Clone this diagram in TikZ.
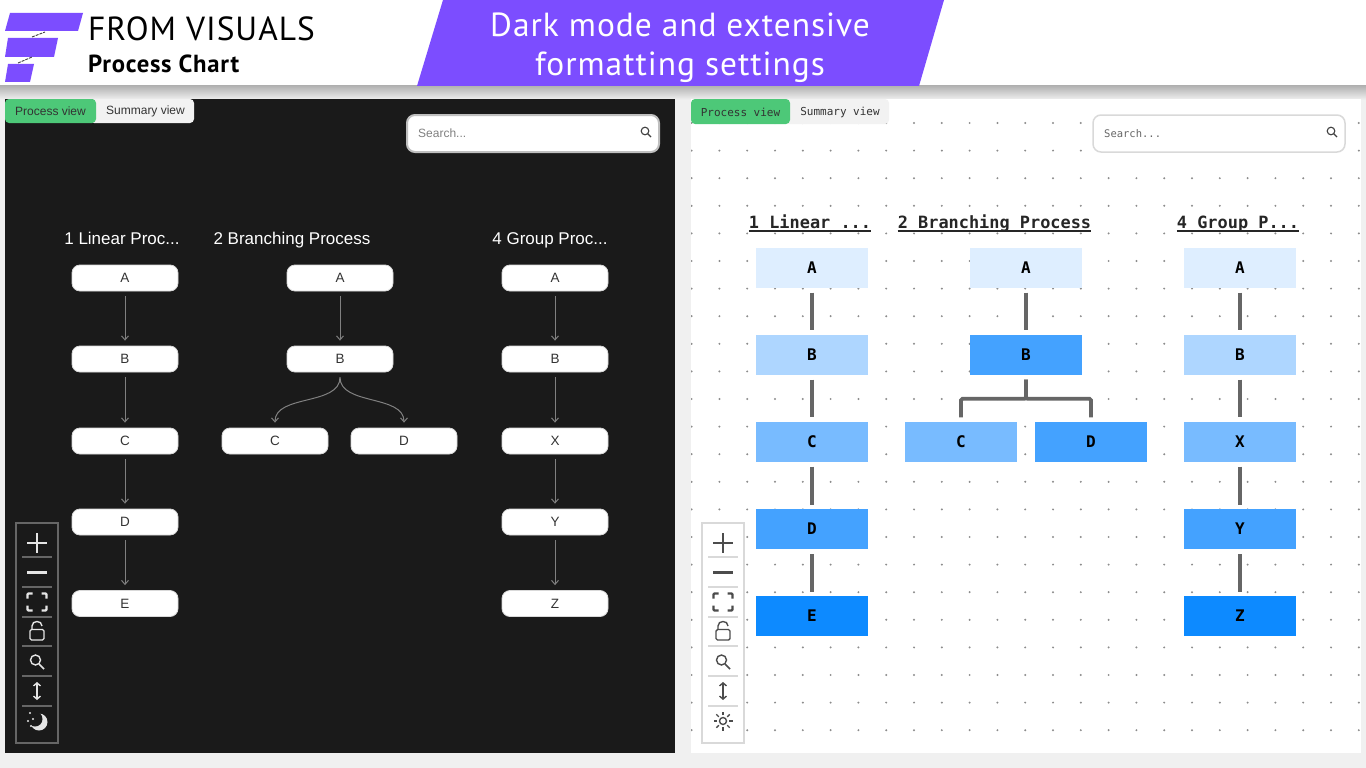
\documentclass[tikz,border=0pt]{standalone}
\usepackage{fontspec}
\setmainfont{Liberation Sans}
\newfontfamily\headfont[LetterSpace=3]{PT Sans}
\newfontfamily\codefont{DejaVu Sans Mono}
\usetikzlibrary{arrows.meta}
\definecolor{pagegray}{HTML}{F0F0F0}
\definecolor{brandpurple}{HTML}{7C4DFF}
\definecolor{darkpanel}{HTML}{1A1A1A}
\definecolor{tabgreen}{HTML}{4DC878}
\definecolor{tabgray}{HTML}{F2F2F2}
\definecolor{blueA}{HTML}{DEEEFF}
\definecolor{blueB}{HTML}{AED6FF}
\definecolor{blueC}{HTML}{78BBFF}
\definecolor{blueD}{HTML}{44A2FF}
\definecolor{blueE}{HTML}{0D8AFF}
\tikzset{
  darkbox/.style={draw=black!15,line width=0.8pt,fill=white,rounded corners=8pt,minimum width=106pt,minimum height=26pt,inner sep=0pt,text=black!80,font=\fontsize{13.5}{15}\selectfont},
  lightbox/.style={fill=#1,minimum width=112pt,minimum height=40pt,inner sep=0pt,font=\codefont\bfseries\fontsize{16}{18}\selectfont},
  darktitle/.style={text=white,inner sep=0pt,font=\fontsize{17}{19}\selectfont},
  lighttitle/.style={inner sep=0pt,text height=13pt,text depth=3pt,text=black!85,font=\codefont\bfseries\fontsize{16.9}{19}\selectfont},
  titleline/.style={draw=black!85,line width=1.7pt},
  darkflow/.style={draw=black!50,line width=1pt,shorten <=5pt,shorten >=5pt,-{Straight Barb[length=4pt,width=7pt]}},
  lightflow/.style={draw=black!60,line width=3.8pt,shorten <=5pt,shorten >=4pt},
  tablabel/.style={inner sep=0pt,text=black!80},
}
% x of the tool strip, border colour, icon colour
\newcommand{\toolstrip}[3]{
  \begin{scope}[shift={(#1,0)}]
    \draw[#2,line width=2pt] (-21,523) rectangle (21,743);
    \foreach \y in {557,587,617,646,676,706}
    \draw[#2,line width=1.2pt] (-15,\y) -- (15,\y);
    \draw[#3,line width=2.8pt] (-10,543) -- (10,543);
    \draw[#3,line width=2.8pt] (0,533) -- (0,553);
    \draw[#3,line width=2.6pt] (-10,572.5) -- (10,572.5);
    \foreach \a/\b in {-1/-1,1/-1,-1/1,1/1}
    \draw[#3,line width=2.2pt,rounded corners=1pt] (\a*9.5,602+\b*3.5) -- (\a*9.5,602+\b*8.5) -- (\a*4.5,602+\b*8.5);
    \draw[#3,line width=1.4pt,rounded corners=1.5pt] (-7,629.5) rectangle (7,640);
    \draw[#3,line width=1.4pt] (-5,629.5) -- (-5,626) .. controls (-5,620) and (5,620) .. (5,626);
    \draw[#3,line width=1.4pt] (-1.5,660) circle[radius=5];
    \draw[#3,line width=1.6pt] (2,664) -- (7,669);
    \draw[#3,line width=1.4pt,{Straight Barb[length=3pt,width=7pt]}-{Straight Barb[length=3pt,width=7pt]}] (0,682) -- (0,700);
  \end{scope}
}
\begin{document}
\begin{tikzpicture}[x=1pt,y=-1pt]
\useasboundingbox (0,0) rectangle (1366,768);
\fill[pagegray] (0,0) rectangle (1366,768);
% header
\fill[white] (0,0) rectangle (1366,86);
\shade[top color=black!30,bottom color=black!7] (0,86) rectangle (1366,99);
\fill[brandpurple] (10,13) -- (83,13) -- (78,31) -- (5,31) -- cycle;
\fill[brandpurple] (8,38) -- (58,38) -- (54,57) -- (5,57) -- cycle;
\fill[brandpurple] (8,64) -- (34,64) -- (30,82) -- (5,82) -- cycle;
\draw[black!75,line width=0.9pt,dash pattern=on 3pt off 1pt] (32,37) -- (45,32);
\draw[black!75,line width=0.9pt,dash pattern=on 3pt off 1pt] (18,63) -- (32,57);
\node[anchor=base west,inner sep=0pt] (brandname) at (88,41) {\headfont\fontsize{33.4}{36}\selectfont FROM VISUALS};
\node[anchor=base west,inner sep=0pt] (charttype) at (88,73) {\headfont\bfseries\fontsize{24.7}{26}\selectfont Process Chart};
\fill[brandpurple] (443,0) -- (944,0) -- (919,86) -- (417,86) -- cycle;
\node[text=white,anchor=base,inner sep=0pt] (bannerone) at (680,37) {\headfont\fontsize{33.4}{35}\selectfont Dark mode and extensive};
\node[text=white,anchor=base,inner sep=0pt] (bannertwo) at (680,75) {\headfont\fontsize{33.4}{35}\selectfont formatting settings};
% dark panel
\fill[darkpanel] (5,99) rectangle (675,753);
\fill[tabgray,rounded corners=4pt] (90,99) rectangle (194,123);
\fill[tabgreen,rounded corners=4pt] (5,99) rectangle (96,123);
\node[tablabel,font=\fontsize{12}{14}\selectfont] (dtabone) at (50.5,111) {Process view};
\node[tablabel,font=\fontsize{12}{14}\selectfont] (dtabtwo) at (145.5,111) {Summary view};
\draw[black!25,fill=white,line width=2pt,rounded corners=8pt] (407,115) rectangle (659,152);
\node[anchor=west,inner sep=0pt,text=black!50,font=\fontsize{12}{14}\selectfont] (dsearch) at (418,133) {Search...};
\draw[black!75,line width=1.1pt] (645,131) circle[radius=3.8];
\draw[black!75,line width=1.3pt] (647.7,133.7) -- (651,137);
\node[darktitle,anchor=base] (dtitleone) at (122,244) {1 Linear Proc...};
\node[darktitle,anchor=base] (dtitletwo) at (292,244) {2 Branching Process};
\node[darktitle,anchor=base] (dtitlefour) at (550,244) {4 Group Proc...};
\foreach \n/\y in {A/278,B/359,C/441,D/522,E/603.5}
\node[darkbox] (da\n) at (125,\y) {\n};
\node[darkbox] (dbA) at (340,278) {A};
\node[darkbox] (dbB) at (340,359) {B};
\node[darkbox] (dbC) at (275,441) {C};
\node[darkbox] (dbD) at (404,441) {D};
\foreach \n/\y in {A/278,B/359,X/441,Y/522,Z/603.5}
\node[darkbox] (dc\n) at (555,\y) {\n};
\foreach \a/\b in {daA/daB,daB/daC,daC/daD,daD/daE,dbA/dbB,dcA/dcB,dcB/dcX,dcX/dcY,dcY/dcZ}
\draw[darkflow] (\a) -- (\b);
\draw[darkflow] (dbB.south) to[out=-90,in=90] (dbC.north);
\draw[darkflow] (dbB.south) to[out=-90,in=90] (dbD.north);
\toolstrip{37}{black!60}{white!90!black}
\fill[white!90!black] (39,722) circle[radius=8.5];
\fill[darkpanel] (35,719) circle[radius=7.5];
\foreach \x/\y in {30/713,33/719,28/721,31/726}
\fill[white!90!black] (\x,\y) circle[radius=1.1];
% light panel
\fill[white] (691,99) rectangle (1361,753);
\begin{scope}
\clip (691,99) rectangle (1361,753);
\foreach \i in {0,...,24}
\foreach \j in {0,...,22}
\fill[black!45] (691.6+27.8*\i,123+27.6*\j) circle[radius=1.1];
\end{scope}
\fill[tabgray,rounded corners=4pt] (784,99) rectangle (889,124);
\fill[tabgreen,rounded corners=4pt] (691,99) rectangle (790,124);
\node[tablabel,font=\codefont\fontsize{11}{13}\selectfont] (ltabone) at (740.5,112) {Process view};
\node[tablabel,font=\codefont\fontsize{11}{13}\selectfont] (ltabtwo) at (840,112) {Summary view};
\draw[black!15,fill=white,line width=1.5pt,rounded corners=8pt] (1093,115) rectangle (1345,152);
\node[anchor=west,inner sep=0pt,text=black!60,font=\codefont\fontsize{10.5}{13}\selectfont] (lsearch) at (1104,134) {Search...};
\draw[black!75,line width=1.1pt] (1331,131) circle[radius=3.8];
\draw[black!75,line width=1.3pt] (1333.7,133.7) -- (1337,137);
\node[lighttitle,anchor=base] (ltitleone) at (810,228) {1 Linear ...};
\node[lighttitle,anchor=base] (ltitletwo) at (994.5,228) {2 Branching Process};
\node[lighttitle,anchor=base] (ltitlefour) at (1238,228) {4 Group P...};
\foreach \n in {ltitleone,ltitletwo,ltitlefour}
\draw[titleline] (\n.south west) -- (\n.south east);
\foreach \n/\y/\c in {A/267.5/blueA,B/354.5/blueB,C/441.5/blueC,D/529/blueD,E/616/blueE}
\node[lightbox=\c] (la\n) at (812,\y) {\n};
\node[lightbox=blueA] (lbA) at (1026,267.5) {A};
\node[lightbox=blueD] (lbB) at (1026,354.5) {B};
\node[lightbox=blueC] (lbC) at (961,441.5) {C};
\node[lightbox=blueD] (lbD) at (1091,441.5) {D};
\foreach \n/\y/\c in {A/267.5/blueA,B/354.5/blueB,X/441.5/blueC,Y/529/blueD,Z/616/blueE}
\node[lightbox=\c] (lc\n) at (1240,\y) {\n};
\foreach \a/\b in {laA/laB,laB/laC,laC/laD,laD/laE,lbA/lbB,lcA/lcB,lcB/lcX,lcX/lcY,lcY/lcZ}
\draw[lightflow] (\a) -- (\b);
\draw[lightflow,rounded corners=1.5pt] (lbB.south) -- ++(0,24) -| (lbC.north);
\draw[lightflow,rounded corners=1.5pt] (lbB.south) -- ++(0,24) -| (lbD.north);
\fill[white] (702,523) rectangle (744,743);
\toolstrip{723}{black!15}{black!70}
\draw[black!70,line width=1.4pt] (723,721) circle[radius=3.5];
\foreach \a in {0,45,...,315}
\draw[black!70,line width=1.4pt] (723,721) ++(\a:6) -- ++(\a:3.5);
\end{tikzpicture}
\end{document}
